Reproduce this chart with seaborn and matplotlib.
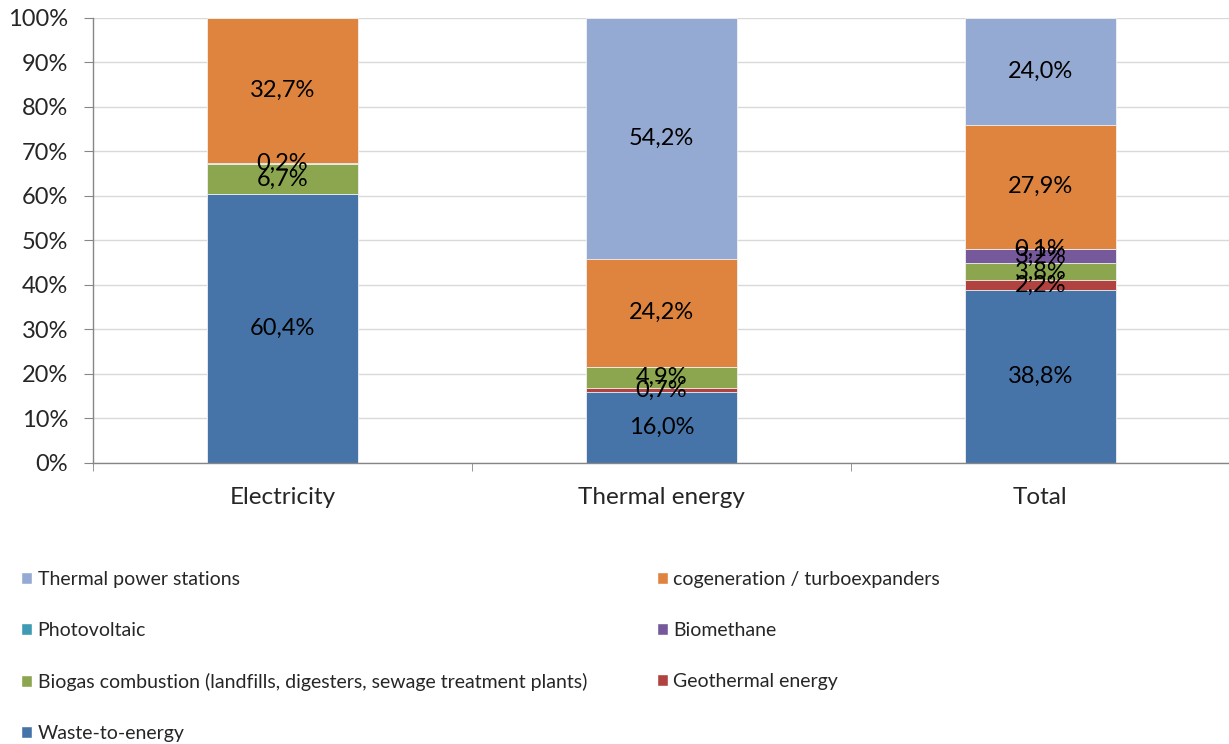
import numpy as np
import pandas as pd
import matplotlib.pyplot as plt
import matplotlib
from matplotlib.patches import Patch
from matplotlib.ticker import PercentFormatter, FixedLocator
import seaborn as sns

sns.set_style('white')
plt.rcParams['font.family'] = ['Lato', 'DejaVu Sans']

# data, bottom to top of each bar
categories = ['Electricity', 'Thermal energy', 'Total']
series = ['Waste-to-energy', 'Geothermal energy',
          'Biogas combustion (landfills, digesters, sewage treatment plants)',
          'Biomethane', 'Photovoltaic', 'cogeneration / turboexpanders',
          'Thermal power stations']
waste_to_energy = [60.4, 16.0, 38.8]
geothermal = [0.0, 0.7, 2.2]
biogas = [6.7, 4.9, 3.8]
biomethane = [0.0, 0.0, 3.2]
photovoltaic = [0.2, 0.0, 0.1]
cogeneration = [32.7, 24.2, 27.9]
thermal_stations = [0.0, 54.2, 24.0]
colors = ['#4674A8', '#B0423F', '#8BA64F', '#76599A', '#3F9AB3', '#DE843F', '#95AAD3']

values = [waste_to_energy, geothermal, biogas, biomethane, photovoltaic,
          cogeneration, thermal_stations]
df = pd.DataFrame({'category': categories})
for name, v in zip(series, values):
    df[name] = v
cum = df[series].cumsum(axis=1)

fig = plt.figure(figsize=(12.29, 7.44), dpi=100)
ax = fig.add_axes([0.0757, 0.378, 0.925, 0.598])

# draw cumulative bars from top down so each lower one covers the rest
for name, c in reversed(list(zip(series, colors))):
    sns.barplot(x=df['category'], y=cum[name], color=c, width=0.4, saturation=1,
                linewidth=0.6, edgecolor='#F2F2F2', ax=ax, zorder=2)

# data labels centred in each segment
for i, cat in enumerate(categories):
    base = 0
    for name in series:
        v = df.loc[i, name]
        if v > 0:
            ax.text(i, base + v / 2, f'{v:.1f}%'.replace('.', ','), ha='center',
                    va='center', fontsize=17, color='black', zorder=3)
        base += v

ax.set_xlim(-0.5, 2.5)
ax.set_ylim(0, 100)
ax.yaxis.set_major_locator(FixedLocator(np.arange(0, 101, 10)))
ax.yaxis.set_major_formatter(PercentFormatter(decimals=0))
ax.grid(axis='y', color='#D9D9D9', linewidth=1, zorder=0)
ax.set_axisbelow(True)
ax.set_xlabel('')
ax.set_ylabel('')
ax.tick_params(axis='y', labelsize=17, length=6.5, color='#868686', left=True, pad=11.5)
ax.tick_params(axis='x', labelsize=17.5, length=0, pad=17.5)
ax.xaxis.set_minor_locator(FixedLocator([-0.5, 0.5, 1.5, 2.5]))
ax.tick_params(axis='x', which='minor', length=6, color='#868686', bottom=True)
for s in ['top', 'right']:
    ax.spines[s].set_visible(False)
for s in ['left', 'bottom']:
    ax.spines[s].set_color('#868686')
    ax.spines[s].set_linewidth(1)

# legend in two columns, row-major reversed order
order = [6, 4, 2, 0, 5, 3, 1]
handles = [Patch(facecolor=colors[k], label=series[k]) for k in order]
fig.legend(handles=handles, ncol=2, loc='upper left', bbox_to_anchor=(0.006, 0.251),
           frameon=False, fontsize=14, handlelength=0.55, handleheight=0.55,
           handletextpad=0.3, labelspacing=1.75, columnspacing=3.6,
           borderpad=0.2)

plt.savefig('out.png', dpi=100)
plt.close()
